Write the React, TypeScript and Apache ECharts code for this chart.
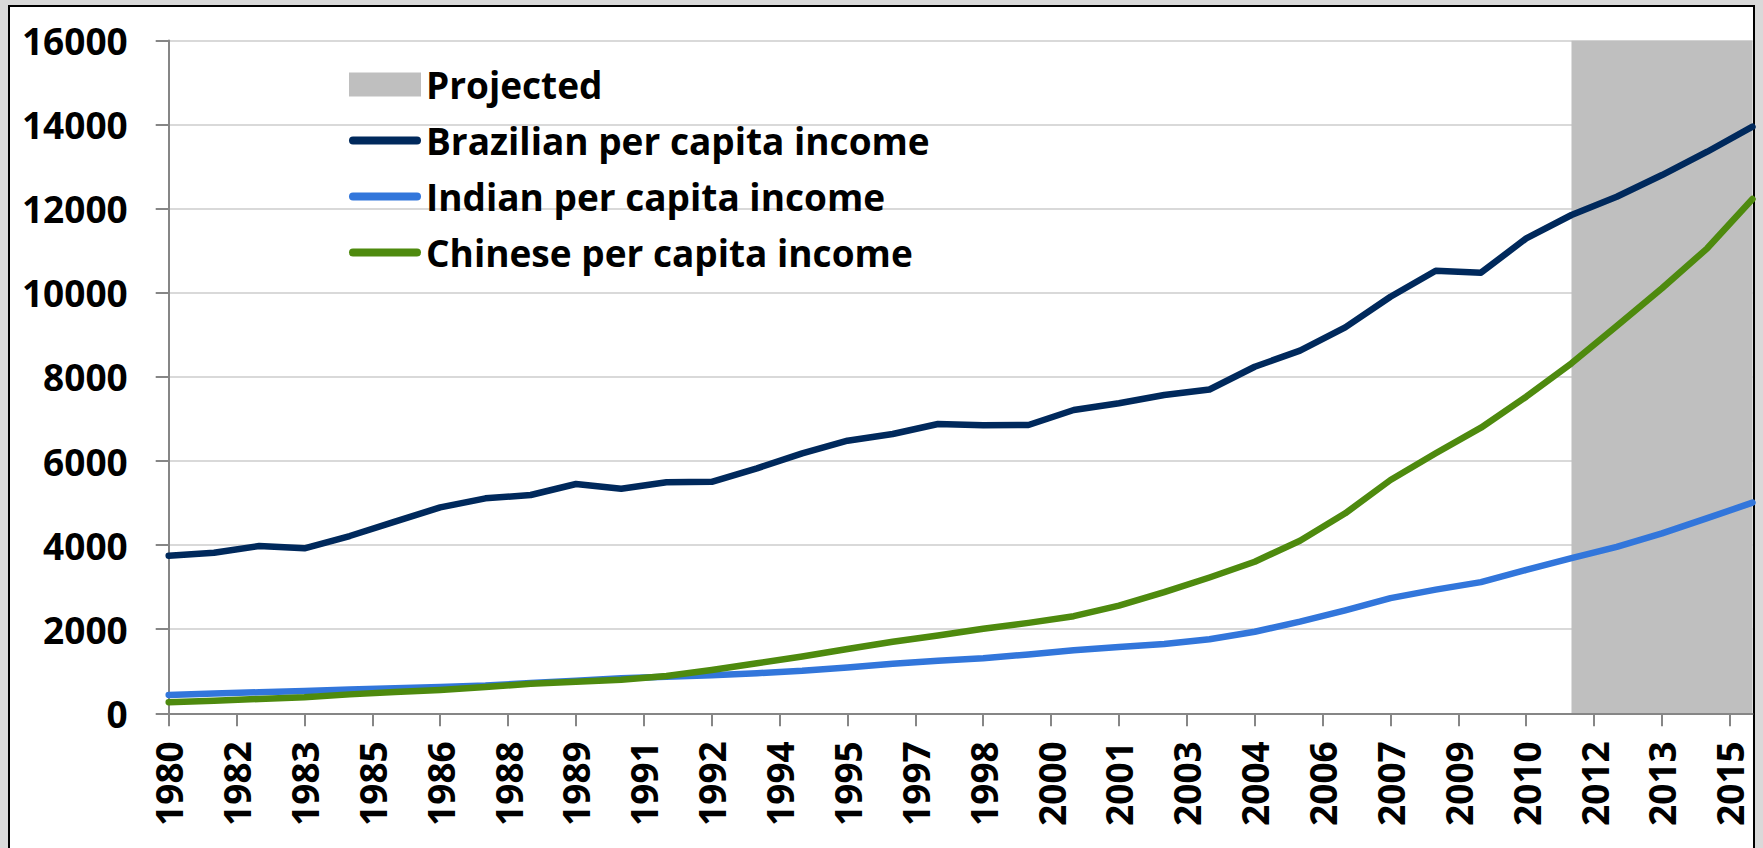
import React, { useEffect, useRef } from "react";
import * as echarts from "echarts";

const years = [
  1980, 1981, 1982, 1983, 1984, 1985, 1986, 1987, 1988, 1989, 1990, 1991,
  1992, 1993, 1994, 1995, 1996, 1997, 1998, 1999, 2000, 2001, 2002, 2003,
  2004, 2005, 2006, 2007, 2008, 2009, 2010, 2011, 2012, 2013, 2014, 2015,
];

const brazil = [
  3748, 3819, 3978, 3923, 4216, 4557, 4898, 5112, 5191, 5453, 5342, 5493,
  5505, 5826, 6183, 6483, 6642, 6880, 6849, 6856, 7212, 7372, 7569, 7700,
  8242, 8625, 9179, 9907, 10525, 10478, 11295, 11850, 12285, 12801, 13355, 13950,
];

const india = [
  435, 470, 500, 530, 565, 595, 625, 660, 720, 775, 835, 870,
  905, 955, 1010, 1090, 1180, 1250, 1310, 1400, 1500, 1575, 1650, 1760,
  1940, 2180, 2450, 2740, 2940, 3120, 3410, 3690, 3960, 4280, 4640, 5010,
];

const china = [
  265, 300, 340, 380, 450, 505, 555, 625, 700, 750, 800, 885,
  1030, 1190, 1350, 1530, 1700, 1850, 2010, 2150, 2310, 2560, 2880, 3230,
  3605, 4105, 4756, 5548, 6183, 6792, 7529, 8323, 9210, 10107, 11058, 12230,
];

const projectedStart = 2011;
const projectedEnd = 2015;
const projectedTop = 16000;

const tickPositions = [
  1980, 1981.5, 1983, 1984.5, 1986, 1987.5, 1989, 1990.5, 1992, 1993.5, 1995,
  1996.5, 1998, 1999.5, 2001, 2002.5, 2004, 2005.5, 2007, 2008.5, 2010, 2011.5,
  2013, 2014.5,
];
const tickLabels = [
  "1980", "1982", "1983", "1985", "1986", "1988", "1989", "1991", "1992",
  "1994", "1995", "1997", "1998", "2000", "2001", "2003", "2004", "2006",
  "2007", "2009", "2010", "2012", "2013", "2015",
];

const NAMES = {
  proj: "Projected",
  br: "Brazilian per capita income",
  in: "Indian per capita income",
  cn: "Chinese per capita income",
};
const COLORS = {
  proj: "#BFBFBF",
  br: "#00295C",
  in: "#3276DB",
  cn: "#4E8A0E",
};

const FONT = "'Open Sans', Lato, sans-serif";
const AXIS_GRAY = "#868686";
// legend line icon: a horizontal bar with rounded ends
const LINE_ICON = "path://M4,0 L68,0 A4,4 0 0 1 68,8 L4,8 A4,4 0 0 1 4,0 Z";

export default function App() {
  const ref = useRef<HTMLDivElement>(null);

  useEffect(() => {
    if (!ref.current) return;
    const chart = echarts.init(ref.current, undefined, { renderer: "svg" });
    const pair = (vals: number[]) => years.map((y, i) => [y, vals[i]]);
    const lineSeries = (name: string, color: string, vals: number[]) => ({
      name,
      type: "line",
      data: pair(vals),
      symbol: "none",
      showSymbol: false,
      smooth: false,
      itemStyle: { color },
      lineStyle: { color, width: 6.5, join: "round", cap: "round" },
      z: 3,
    });

    chart.setOption({
      animation: false,
      backgroundColor: "transparent",
      grid: {
        left: 168.7,
        right: 10.5,
        top: 40.5,
        bottom: 134.7,
        containLabel: false,
        outerBoundsMode: "none",
      },
      legend: {
        orient: "vertical",
        left: 349,
        top: 65.5,
        padding: 0,
        itemWidth: 72,
        itemHeight: 24,
        itemGap: 18,
        symbolKeepAspect: true,
        textStyle: {
          fontFamily: FONT,
          fontWeight: "bold",
          fontSize: 37,
          lineHeight: 38,
          color: "#000",
        },
        data: [
          { name: NAMES.proj, icon: "rect", itemStyle: { color: COLORS.proj, borderWidth: 0 } },
          { name: NAMES.br, icon: LINE_ICON, itemStyle: { color: COLORS.br, borderWidth: 0 } },
          { name: NAMES.in, icon: LINE_ICON, itemStyle: { color: COLORS.in, borderWidth: 0 } },
          { name: NAMES.cn, icon: LINE_ICON, itemStyle: { color: COLORS.cn, borderWidth: 0 } },
        ],
        selectedMode: false,
      },
      xAxis: {
        type: "value",
        min: years[0],
        max: years[years.length - 1],
        z: 5,
        axisLine: { show: true, onZero: false, lineStyle: { color: AXIS_GRAY, width: 2 } },
        axisTick: {
          show: true,
          customValues: tickPositions,
          length: 13,
          inside: false,
          lineStyle: { color: AXIS_GRAY, width: 2 },
        },
        axisLabel: {
          show: true,
          customValues: tickPositions,
          rotate: 90,
          margin: 28,
          fontFamily: FONT,
          fontWeight: "bold",
          fontSize: 37,
          color: "#000",
          formatter: (v: number) => {
            const i = tickPositions.indexOf(v);
            return i >= 0 ? tickLabels[i] : "";
          },
        },
        splitLine: { show: false },
      },
      yAxis: {
        type: "value",
        min: 0,
        max: 16000,
        interval: 2000,
        axisLine: { show: true, lineStyle: { color: AXIS_GRAY, width: 2 } },
        axisTick: { show: true, length: 13, inside: false, lineStyle: { color: AXIS_GRAY, width: 2 } },
        axisLabel: {
          margin: 41,
          fontFamily: FONT,
          fontWeight: "bold",
          fontSize: 37,
          color: "#000",
          formatter: (v: number) => String(v),
        },
        splitLine: { show: true, lineStyle: { color: "#D9D9D9", width: 2 } },
      },
      series: [
        {
          name: NAMES.proj,
          type: "line",
          data: [
            [projectedStart, projectedTop],
            [projectedEnd, projectedTop],
          ],
          symbol: "none",
          itemStyle: { color: COLORS.proj },
          lineStyle: { width: 0, color: COLORS.proj },
          areaStyle: { color: COLORS.proj, opacity: 1 },
          silent: true,
          z: 2,
        },
        lineSeries(NAMES.br, COLORS.br, brazil),
        lineSeries(NAMES.in, COLORS.in, india),
        lineSeries(NAMES.cn, COLORS.cn, china),
      ],
    });

    return () => chart.dispose();
  }, []);

  return (
    <div
      style={{
        position: "fixed",
        left: 0,
        top: 0,
        width: 1763,
        height: 848,
        overflow: "hidden",
        background: "#D9D9D9",
      }}
    >
      <div
        style={{
          position: "absolute",
          left: 7.5,
          top: 4.5,
          width: 1747.5,
          height: 900,
          boxSizing: "border-box",
          border: "2px solid #000",
          background: "#fff",
        }}
      />
      <div
        ref={ref}
        style={{ position: "absolute", left: 0, top: 0, width: 1763, height: 848 }}
      />
    </div>
  );
}
